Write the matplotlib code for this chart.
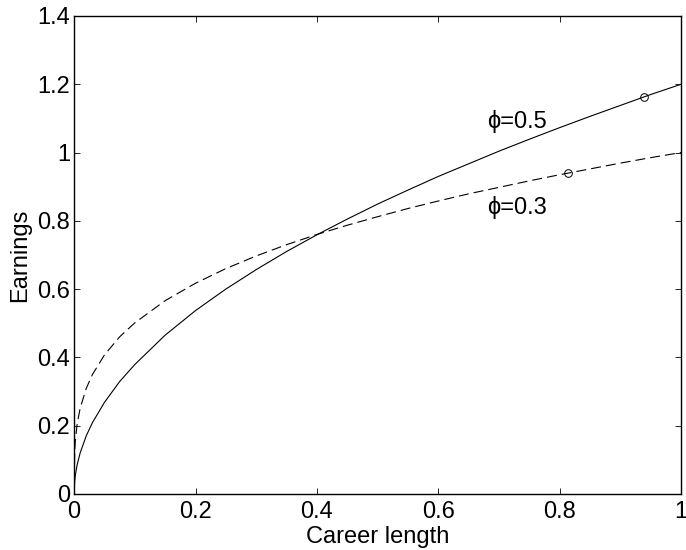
import matplotlib
matplotlib.use("Agg")

import matplotlib.pyplot as plt

plt.rcParams.update({
    "font.family": ["Liberation Sans", "DejaVu Sans"],
    "font.size": 17,
    "xtick.direction": "in",
    "ytick.direction": "in",
    "xtick.top": True,
    "ytick.right": True,
    "axes.linewidth": 1.0,
})

# career length (x) and earnings
career = [0, 0.001, 0.002, 0.005, 0.01, 0.02, 0.03, 0.05, 0.075, 0.1, 0.15, 0.2,
          0.25, 0.3, 0.35, 0.4, 0.45, 0.5, 0.55, 0.6, 0.65, 0.7, 0.75, 0.8,
          0.85, 0.9, 0.95, 1.0]
earn_phi05 = [0, 0.038, 0.054, 0.085, 0.120, 0.170, 0.208, 0.268, 0.329, 0.379,
              0.465, 0.537, 0.600, 0.657, 0.710, 0.759, 0.805, 0.849, 0.890,
              0.930, 0.967, 1.004, 1.039, 1.073, 1.106, 1.138, 1.170, 1.200]
earn_phi03 = [0, 0.126, 0.155, 0.204, 0.251, 0.309, 0.349, 0.407, 0.460, 0.501,
              0.566, 0.617, 0.660, 0.697, 0.730, 0.760, 0.787, 0.812, 0.836,
              0.858, 0.879, 0.898, 0.917, 0.935, 0.952, 0.969, 0.985, 1.000]

# marked optimum points
opt_x = [0.938, 0.813]
opt_y = [1.163, 0.939]

fig = plt.figure(figsize=(6.86, 5.5), dpi=100)
ax = fig.add_axes([0.108, 0.102, 0.885, 0.869])

ax.plot(career, earn_phi05, color="black", linewidth=0.8)
ax.plot(career, earn_phi03, color="black", linewidth=0.8, linestyle=(0, (9, 4.5)))
ax.plot(opt_x, opt_y, linestyle="none", marker="o", markersize=5.5,
        markerfacecolor="none", markeredgecolor="black", markeredgewidth=0.7)

ax.text(0.68, 1.09, "ϕ=0.5", va="center", ha="left")
ax.text(0.68, 0.84, "ϕ=0.3", va="center", ha="left")

ax.set_xlim(0, 1)
ax.set_ylim(0, 1.4)
ax.set_xticks([0, 0.2, 0.4, 0.6, 0.8, 1])
ax.set_xticklabels(["0", "0.2", "0.4", "0.6", "0.8", "1"])
ax.set_yticks([0, 0.2, 0.4, 0.6, 0.8, 1, 1.2, 1.4])
ax.set_yticklabels(["0", "0.2", "0.4", "0.6", "0.8", "1", "1.2", "1.4"])
ax.tick_params(axis="x", length=4.3, width=0.6, pad=5)
ax.tick_params(axis="y", length=4.3, width=0.6, pad=3)
ax.grid(False)

ax.set_xlabel("Career length")
ax.set_ylabel("Earnings")
ax.xaxis.set_label_coords(0.5, -0.068)
ax.yaxis.set_label_coords(-0.07, 0.5)

fig.savefig("out.png", dpi=100)
